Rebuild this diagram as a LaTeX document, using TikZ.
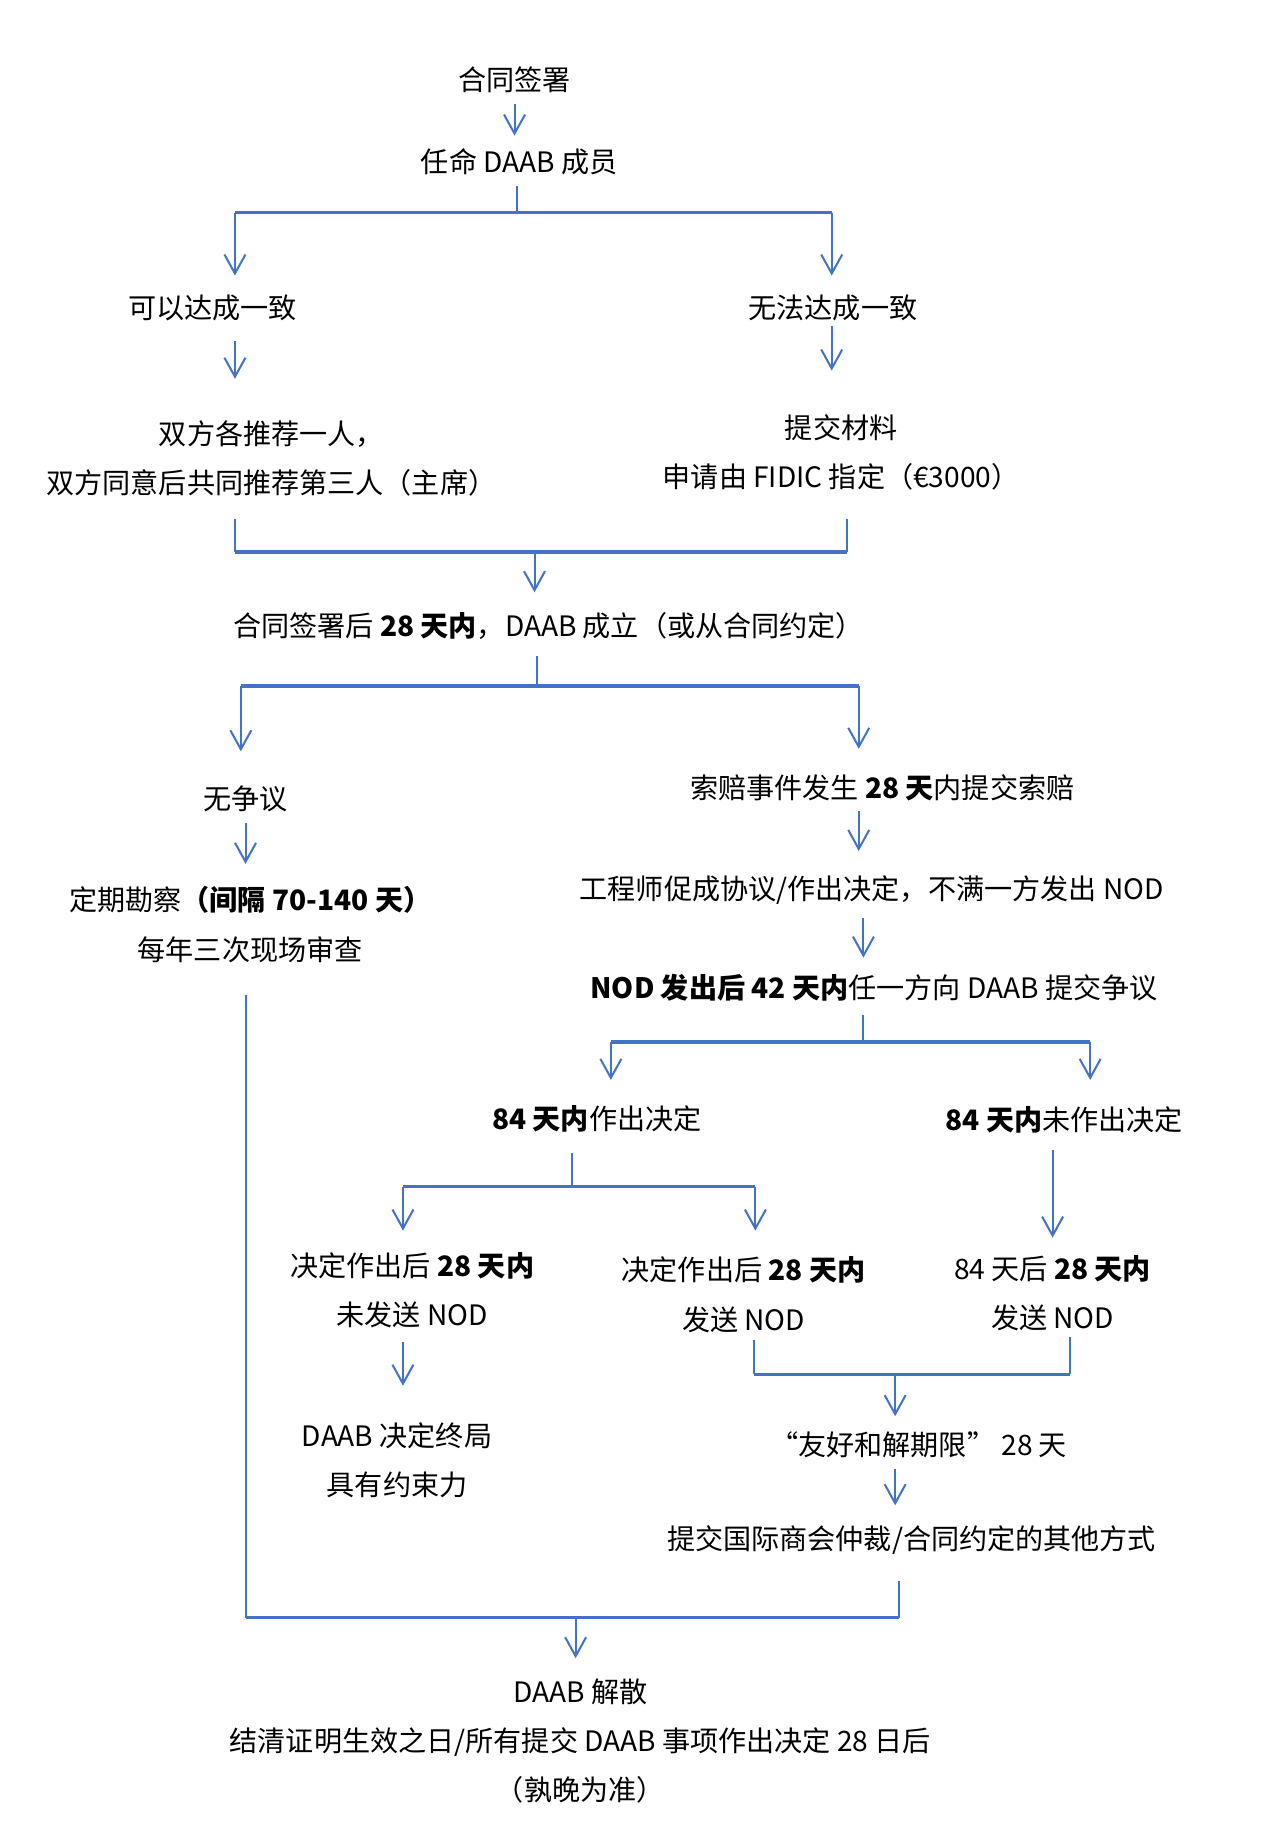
\documentclass[tikz,border=0pt]{standalone}
\usepackage{fontspec}
\setmainfont{Noto Sans CJK SC}
\usetikzlibrary{arrows.meta}
\definecolor{flowblue}{RGB}{68,114,196}
\newcommand{\px}{0.0235cm}

\begin{document}
\begin{tikzpicture}[
    x=\px, y=-\px,
    txt/.style={font=\fontsize{16pt}{28pt}\selectfont, inner sep=0pt, align=center},
    ln/.style={draw=flowblue, line width=1.15pt},
    br/.style={draw=flowblue, line width=2pt},
    arr/.style={ln, -{Straight Barb[length=3.8mm,width=4.2mm,line width=1.15pt]}}
]
\useasboundingbox (0,0) rectangle (1080,1568);

\node[txt] (sign) at (438,68) {合同签署};
\node[txt] (appoint) at (442,138) {任命 DAAB 成员};
\node[txt] (agree) at (181,262) {可以达成一致};
\node[txt] (noagree) at (709,262) {无法达成一致};
\node[txt] (both) at (231,390) {双方各推荐一人，\\双方同意后共同推荐第三人（主席）};
\node[txt] (submit) at (716,385) {提交材料\\申请由 FIDIC 指定（€3000）};
\node[txt] (formed) at (467,533) {合同签署后 \textbf{28 天内}，DAAB 成立（或从合同约定）};
\node[txt] (nodispute) at (209,680) {无争议};
\node[txt] (claim) at (751,671) {索赔事件发生 \textbf{28 天}内提交索赔};
\node[txt] (visit) at (213,787) {定期勘察\textbf{（间隔 70-140 天）}\\每年三次现场审查};
\node[txt] (engineer) at (742,758) {工程师促成协议/作出决定，不满一方发出 NOD};
\node[txt] (refer) at (744,841) {\textbf{NOD 发出后 42 天内}任一方向 DAAB 提交争议};
\node[txt] (dec84) at (508,952) {\textbf{84 天内}作出决定};
\node[txt] (nodec84) at (906,953) {\textbf{84 天内}未作出决定};
\node[txt] (nonod) at (351,1098) {决定作出后 \textbf{28 天内}\\未发送 NOD};
\node[txt] (nod) at (633,1102) {决定作出后 \textbf{28 天内}\\发送 NOD};
\node[txt] (nod84) at (896,1101) {84 天后 \textbf{28 天内}\\发送 NOD};
\node[txt] (final) at (338,1243) {DAAB 决定终局\\具有约束力};
\node[txt] (amicable) at (782,1230) {“友好和解期限” 28 天};
\node[txt] (arbitrate) at (776,1311) {提交国际商会仲裁/合同约定的其他方式};
\node[txt] (dissolve) at (494,1482) {DAAB 解散\\结清证明生效之日/所有提交 DAAB 事项作出决定 28 日后\\（孰晚为准）};

\coordinate (b1) at (440,181);
\coordinate (b1l) at (200,181);
\coordinate (b1r) at (708,181);
\coordinate (m1) at (455,470);
\coordinate (m1l) at (200,470);
\coordinate (m1r) at (721,470);
\coordinate (b2) at (457,584);
\coordinate (b2l) at (205,584);
\coordinate (b2r) at (731,584);
\coordinate (b3) at (735,887);
\coordinate (b3l) at (520,887);
\coordinate (b3r) at (928,887);
\coordinate (b4) at (487,1010);
\coordinate (b4l) at (343,1010);
\coordinate (b4r) at (643,1010);
\coordinate (m2) at (762,1170);
\coordinate (m2l) at (642,1170);
\coordinate (m2r) at (911,1170);
\coordinate (m3) at (490,1377);
\coordinate (m3l) at (209,1377);
\coordinate (m3r) at (765,1377);

\draw[arr, shorten <=9*\px, shorten >=11*\px] (sign.south) -- (sign.south |- appoint.north);
\draw[ln, shorten <=9*\px] (appoint.south -| b1) -- (b1);
\draw[br] (b1l) -- (b1r);
\draw[arr, shorten >=16*\px] (b1l) -- (b1l |- agree.north);
\draw[arr, shorten >=16*\px] (b1r) -- (b1r |- noagree.north);
\draw[arr, shorten <=17*\px, shorten >=35*\px] (agree.south -| b1l) -- (both.north -| b1l);
\draw[arr, shorten <=4*\px, shorten >=37*\px] (noagree.south -| b1r) -- (submit.north -| b1r);

\draw[ln, shorten <=19*\px] (both.south -| m1l) -- (m1l);
\draw[ln, shorten <=24*\px] (submit.south -| m1r) -- (m1r);
\draw[br] (m1l) -- (m1r);
\draw[arr, shorten >=17*\px] (m1) -- (m1 |- formed.north);

\draw[ln, shorten <=14*\px] (formed.south -| b2) -- (b2);
\draw[br] (b2l) -- (b2r);
\draw[arr, shorten >=29*\px] (b2l) -- (b2l |- nodispute.north);
\draw[arr, shorten >=22*\px] (b2r) -- (b2r |- claim.north);
\draw[arr, shorten <=9*\px, shorten >=19*\px] (nodispute.south) -- (nodispute.south |- visit.north);
\draw[arr, shorten <=8*\px, shorten >=21*\px] (claim.south -| b2r) -- (engineer.north -| b2r);
\draw[arr, shorten <=11*\px, shorten >=14*\px] (engineer.south -| b3) -- (refer.north -| b3);

\draw[ln, shorten <=11*\px] (refer.south -| b3) -- (b3);
\draw[br] (b3l) -- (b3r);
\draw[arr, shorten >=21*\px] (b3l) -- (b3l |- dec84.north);
\draw[arr, shorten >=22*\px] (b3r) -- (b3r |- nodec84.north);

\draw[ln, shorten <=18*\px] (dec84.south -| b4) -- (b4);
\draw[br] (b4l) -- (b4r);
\draw[arr, shorten >=18*\px] (b4l) -- (b4l |- nonod.north);
\draw[arr, shorten >=22*\px] (b4r) -- (b4r |- nod.north);
\draw[arr, shorten <=14*\px, shorten >=15*\px] (nodec84.south -| nod84) -- (nod84.north);
\draw[arr, shorten <=12*\px, shorten >=31*\px] (nonod.south -| b4l) -- (final.north -| b4l);

\draw[ln, shorten <=6*\px] (nod.south -| m2l) -- (m2l);
\draw[ln, shorten <=5*\px] (nod84.south -| m2r) -- (m2r);
\draw[br] (m2l) -- (m2r);
\draw[arr, shorten >=13*\px] (m2) -- (m2 |- amicable.north);
\draw[arr, shorten <=9*\px, shorten >=17*\px] (amicable.south -| m2) -- (arbitrate.north -| m2);

\draw[ln, shorten <=27*\px] (visit.south -| m3l) -- (m3l);
\draw[ln, shorten <=22*\px] (arbitrate.south -| m3r) -- (m3r);
\draw[br] (m3l) -- (m3r);
\draw[arr, shorten >=17*\px] (m3) -- (m3 |- dissolve.north);

\end{tikzpicture}
\end{document}
